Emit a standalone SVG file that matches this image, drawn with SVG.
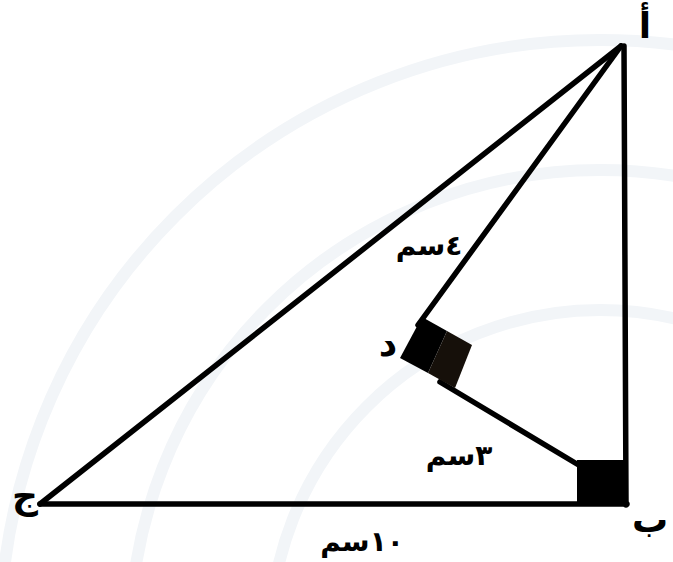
<svg xmlns="http://www.w3.org/2000/svg" width="673" height="562" viewBox="0 0 673 562">
<style>
.ln{stroke:#000;stroke-width:5.5;stroke-linecap:round;fill:none}
.wm{fill:none;stroke:#f2f5f8;stroke-width:12}
.lb{font-family:"DejaVu Sans",sans-serif;font-weight:bold;fill:#000}
.v{font-size:36px}
.m{font-size:28px}
</style>
<rect width="673" height="562" fill="#fff"/>
<g id="watermark">
<circle class="wm" cx="600" cy="640" r="600"/>
<circle class="wm" cx="600" cy="640" r="470"/>
<circle class="wm" cx="600" cy="640" r="330" stroke-width="9"/>
</g>
<g id="connectors">
<line class="ln" x1="621" y1="46" x2="40" y2="504"/>
<line class="ln" x1="624" y1="46" x2="626" y2="505"/>
<line class="ln" x1="40" y1="504" x2="627" y2="504"/>
<line class="ln" x1="621" y1="46" x2="418" y2="325"/>
<line class="ln" x1="440" y1="382" x2="582" y2="467"/>
</g>
<g id="rightangle-D">
<polygon points="400,358 422,317 447,331 428,373" fill="#000"/>
<polygon points="447,331 472,345 455,388 428,373" fill="#16100a"/>
</g>
<g id="rightangle-B">
<rect x="577" y="460" width="49" height="45" fill="#000"/>
</g>
<g id="labels">
<text id="A" class="lb v" x="645" y="38" text-anchor="middle">أ</text>
<text id="B" class="lb v" x="650" y="532" text-anchor="middle">ب</text>
<text id="C" class="lb v" x="25" y="508" text-anchor="middle">ج</text>
<text id="D" class="lb v" x="388" y="356" text-anchor="middle">د</text>
<text id="AD" class="lb m" x="429" y="255" text-anchor="middle" fill="#141432" direction="rtl">٤سم</text>
<text id="DB" class="lb m" x="459" y="465" text-anchor="middle" direction="rtl">٣سم</text>
<text id="CB" class="lb m" x="362" y="551" text-anchor="middle" direction="rtl">١٠سم</text>
</g>
</svg>
